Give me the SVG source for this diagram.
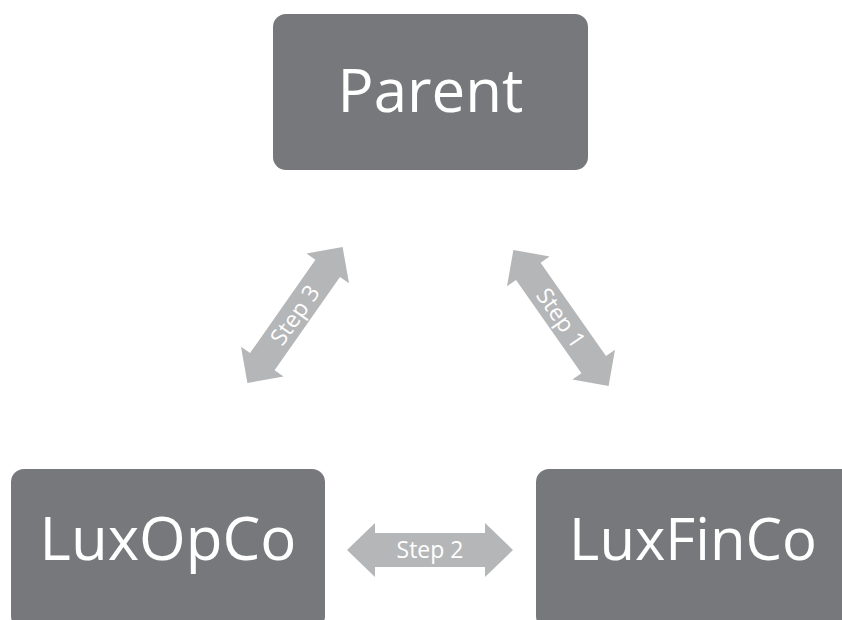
<svg xmlns="http://www.w3.org/2000/svg" width="842" height="620" viewBox="0 0 842 620">
<style>
.box{fill:#77787c}
.nt{fill:#ffffff;font-family:"Open Sans","Noto Sans",sans-serif;font-size:60px;text-anchor:middle}
.arr{fill:#b5b6b8}
.st{fill:#ffffff;font-family:"Open Sans","Noto Sans",sans-serif;font-size:23px;text-anchor:middle}
</style>
<defs>
<path id="dbl" d="M-83,0 L-55,-27 L-55,-17 L55,-17 L55,-27 L83,0 L55,27 L55,17 L-55,17 L-55,27 Z"/>
<path id="dbl2" d="M-83,0 L-57,-26 L-57,-15 L57,-15 L57,-26 L83,0 L57,26 L57,15 L-57,15 L-57,26 Z"/>
</defs>
<rect width="842" height="620" fill="#ffffff"/>
<g id="connectors">
<g id="step3" transform="translate(295,315) rotate(-55)">
<use href="#dbl2" class="arr"/>
<text class="st" x="0" y="8">Step 3</text>
</g>
<g id="step1" transform="translate(561,318) rotate(55)">
<use href="#dbl2" class="arr"/>
<text class="st" x="0" y="8">Step 1</text>
</g>
<g id="step2" transform="translate(430,550)">
<use href="#dbl" class="arr"/>
<text class="st" x="0" y="8">Step 2</text>
</g>
</g>
<g id="parent">
<rect class="box" x="273" y="14" width="315" height="156" rx="13"/>
<text class="nt" x="430.5" y="112">Parent</text>
</g>
<g id="luxopco">
<rect class="box" x="11" y="469" width="314" height="160" rx="13"/>
<text class="nt" x="168" y="560">LuxOpCo</text>
</g>
<g id="luxfinco">
<rect class="box" x="536" y="469" width="320" height="160" rx="13"/>
<text class="nt" x="693" y="560" style="font-size:58px">LuxFinCo</text>
</g>
</svg>
